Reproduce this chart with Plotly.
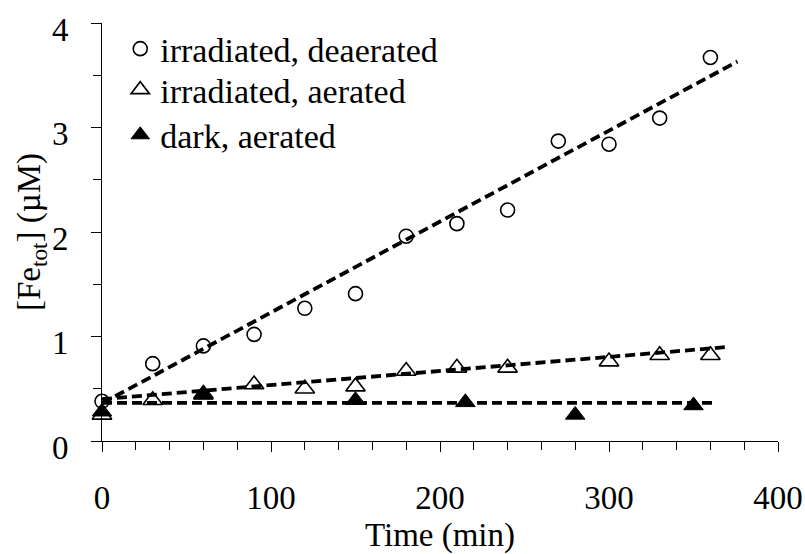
import plotly.graph_objects as go

# ---- data ----
t_deaer = [0, 30, 60, 90, 120, 150, 180, 210, 240, 270, 300, 330, 360]
fe_deaer = [0.38, 0.74, 0.91, 1.02, 1.27, 1.41, 1.96, 2.08, 2.21, 2.87, 2.84, 3.09, 3.67]

t_aer = [0, 30, 60, 90, 120, 150, 180, 210, 240, 300, 330, 360]
fe_aer = [0.25, 0.39, 0.45, 0.54, 0.50, 0.52, 0.67, 0.70, 0.70, 0.76, 0.82, 0.82]

t_dark = [0, 60, 150, 215, 280, 350]
fe_dark = [0.28, 0.44, 0.39, 0.37, 0.25, 0.34]

# linear fits (intercept, slope) and their time spans
fit_deaer = (0.36, 0.0087)
fit_aer = (0.40, 0.00135)
fit_dark = (0.365, 0.0)
span_deaer = [0, 376]
span_aer = [0, 370]
span_dark = [0, 362]

names = ["irradiated, deaerated", "irradiated, aerated", "dark, aerated"]

x_ticks = [0, 100, 200, 300, 400]
y_ticks = [0, 1, 2, 3, 4]

FONT = "Liberation Serif, Times New Roman, serif"

fig = go.Figure()

# markers (each series has its own legend box so rows can be spaced like the reference)
fig.add_trace(go.Scatter(
    x=t_deaer, y=fe_deaer, mode="markers", name=names[0], cliponaxis=False, legend="legend",
    marker=dict(symbol="circle", size=14, color="white",
                line=dict(color="black", width=1.6))))
fig.add_trace(go.Scatter(
    x=t_aer, y=fe_aer, mode="markers", name=names[1], cliponaxis=False, legend="legend2",
    marker=dict(symbol="triangle-up", size=17, color="white",
                line=dict(color="black", width=1.6))))
fig.add_trace(go.Scatter(
    x=t_dark, y=fe_dark, mode="markers", name=names[2], cliponaxis=False, legend="legend3",
    marker=dict(symbol="triangle-up", size=17, color="black",
                line=dict(color="black", width=1))))

# fit lines
for (b, m), span in [(fit_deaer, span_deaer), (fit_aer, span_aer), (fit_dark, span_dark)]:
    fig.add_trace(go.Scatter(
        x=span, y=[b + m * s for s in span], mode="lines", showlegend=False,
        hoverinfo="skip", cliponaxis=False,
        line=dict(color="black", width=3.8, dash="10px,5px")))

axis_common = dict(
    showline=True, linecolor="black", linewidth=1, showgrid=False, zeroline=False,
    ticks="outside", ticklen=10, tickwidth=1, tickcolor="black",
    tickfont=dict(family=FONT, size=33, color="black"),
)

fig.update_xaxes(
    range=[0, 400], tickvals=x_ticks, ticktext=[str(v) for v in x_ticks],
    minor=dict(dtick=20, ticklen=8, ticks="outside", tickcolor="black", tickwidth=1, showgrid=False),
    ticklabelstandoff=17,
    title=dict(text="Time (min)", font=dict(family=FONT, size=33, color="black"), standoff=12),
    **axis_common)
fig.update_yaxes(
    range=[0, 4], tickvals=y_ticks, ticktext=[str(v) for v in y_ticks],
    minor=dict(dtick=0.5, ticklen=8, ticks="outside", tickcolor="black", tickwidth=1, showgrid=False),
    ticklabelstandoff=16, ticklabelshift=6,
    title=dict(text="[Fe<sub>tot</sub>] (µM)", font=dict(family=FONT, size=33, color="black"), standoff=0),
    **axis_common)

leg_common = dict(x=0.027, xanchor="left", yanchor="top",
                  bgcolor="rgba(0,0,0,0)", borderwidth=0,
                  font=dict(family=FONT, size=34, color="black"))

fig.update_layout(
    width=805, height=554,
    margin=dict(l=102, r=27, t=23, b=113, autoexpand=False),
    paper_bgcolor="white", plot_bgcolor="white",
    font=dict(family=FONT, color="black"),
    showlegend=True,
    legend=dict(y=1.007, **leg_common),
    legend2=dict(y=0.909, **leg_common),
    legend3=dict(y=0.801, **leg_common),
)

fig.write_html("out.html")
